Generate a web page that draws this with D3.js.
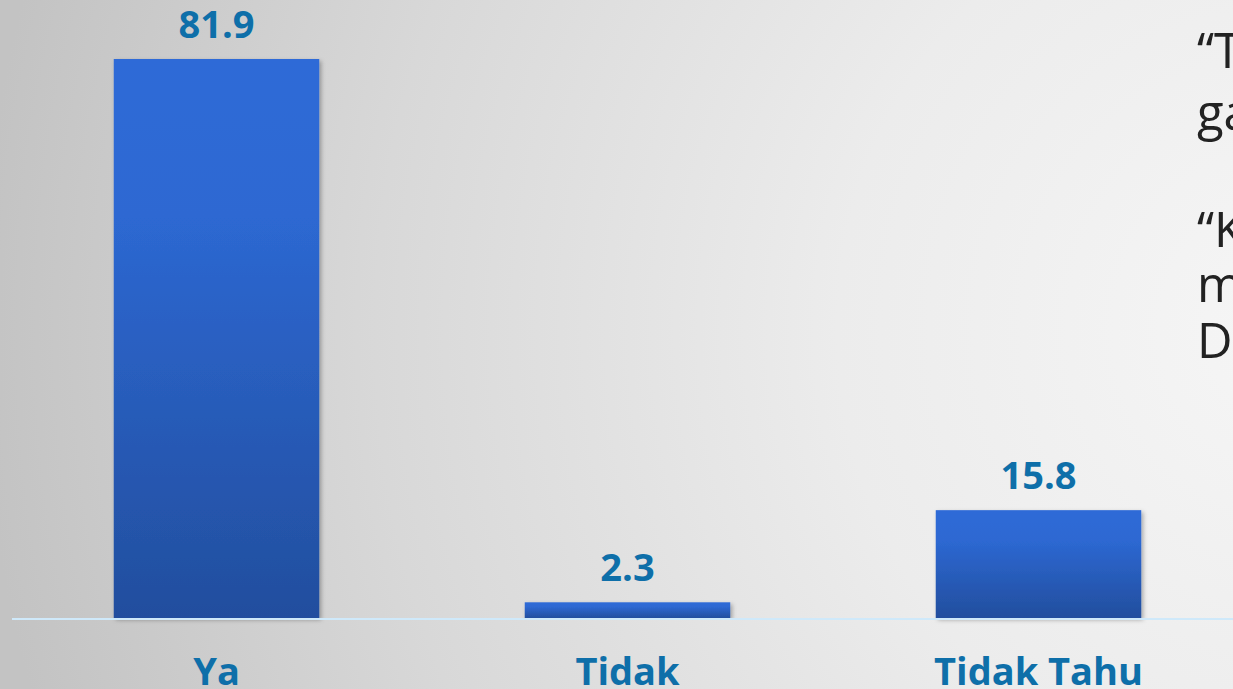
<!DOCTYPE html>
<html>
<head>
<meta charset="utf-8">
<script src="https://cdn.jsdelivr.net/npm/d3@7"></script>
<style>
html,body{margin:0;padding:0;overflow:hidden;background:#e0e0e0;}
svg{display:block;}
</style>
</head>
<body>
<svg id="chart" width="1233" height="689"></svg>
<script>
const categories = ["Ya", "Tidak", "Tidak Tahu"];
const values = [81.9, 2.3, 15.8];
const valueLabels = ["81.9", "2.3", "15.8"];
const sideLines = ["\u201CT", "ga", "\u201CK", "m", "D"];

const W = 1233, H = 689;
const svg = d3.select("#chart");
const defs = svg.append("defs");

const bg = defs.append("radialGradient").attr("id","bg")
  .attr("gradientUnits","userSpaceOnUse")
  .attr("cx",1300).attr("cy",330).attr("r",1320);
bg.append("stop").attr("offset","0").attr("stop-color","#f6f6f6");
bg.append("stop").attr("offset","0.35").attr("stop-color","#ececec");
bg.append("stop").attr("offset","0.7").attr("stop-color","#d8d8d8");
bg.append("stop").attr("offset","1").attr("stop-color","#c3c3c3");

const bar = defs.append("linearGradient").attr("id","bar")
  .attr("x1",0).attr("y1",0).attr("x2",0).attr("y2",1);
bar.append("stop").attr("offset","0").attr("stop-color","#2e6bd7");
bar.append("stop").attr("offset","0.28").attr("stop-color","#2d68d2");
bar.append("stop").attr("offset","1").attr("stop-color","#224e9e");

const sh = defs.append("filter").attr("id","shadow")
  .attr("x","-10%").attr("y","-10%").attr("width","120%").attr("height","120%");
sh.append("feDropShadow").attr("dx",2).attr("dy",2).attr("stdDeviation",2)
  .attr("flood-color","#000").attr("flood-opacity",0.3);

svg.append("rect").attr("width",W).attr("height",H).attr("fill","url(#bg)");

const baseY = 618;
const x = d3.scaleBand().domain(categories).range([11, 1244]).paddingInner(0.5).paddingOuter(0.25);
const y = d3.scaleLinear().domain([0, 81.9]).range([baseY, 59]);

svg.selectAll("rect.bar").data(values).enter().append("rect")
  .attr("class","bar")
  .attr("x",(d,i)=>x(categories[i]))
  .attr("width",x.bandwidth())
  .attr("y",d=>y(d))
  .attr("height",d=>baseY - y(d))
  .attr("fill","url(#bar)")
  .attr("filter","url(#shadow)");

svg.append("line").attr("x1",12).attr("x2",W).attr("y1",baseY+1).attr("y2",baseY+1)
  .attr("stroke","#cfe9fa").attr("stroke-width",2);

svg.selectAll("text.val").data(values).enter().append("text")
  .attr("class","val")
  .attr("x",(d,i)=>x(categories[i]) + x.bandwidth()/2)
  .attr("y",d=>y(d) - 21)
  .attr("text-anchor","middle")
  .attr("font-family","'Open Sans', sans-serif")
  .attr("font-weight","bold")
  .attr("font-size",38)
  .attr("fill","#0e6fa9")
  .text((d,i)=>valueLabels[i]);

const xAxis = svg.append("g").attr("transform",`translate(0,${baseY})`)
  .call(d3.axisBottom(x).tickSize(0).tickPadding(0));
xAxis.select(".domain").remove();
xAxis.selectAll("text")
  .attr("y",67).attr("dy",0)
  .attr("font-family","'Open Sans', sans-serif")
  .attr("font-weight","bold")
  .attr("font-size",38)
  .attr("fill","#0e6fa9");

const sideY = [68, 130, 247, 302, 358];
svg.selectAll("text.side").data(sideLines).enter().append("text")
  .attr("class","side")
  .attr("x",1197)
  .attr("y",(d,i)=>sideY[i])
  .attr("font-family","'Open Sans', sans-serif")
  .attr("font-size",49)
  .attr("fill","#222")
  .text(d=>d);
</script>
</body>
</html>
